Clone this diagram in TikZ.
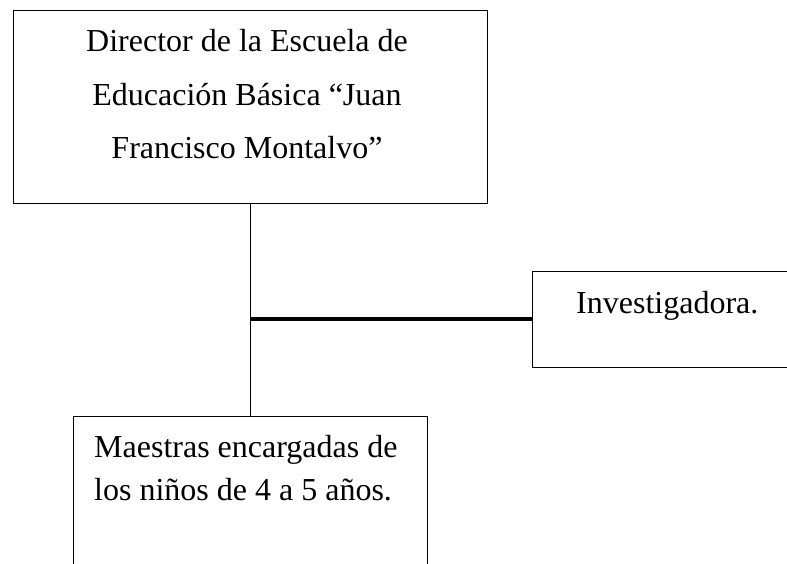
\documentclass[tikz,border=0pt]{standalone}
\usepackage{fontspec}
\setmainfont{Liberation Serif}

\tikzset{
    caja/.style={draw, line width=1pt, inner sep=0pt},
    texto/.style={inner sep=0pt, font=\fontsize{32}{53.5}\selectfont},
}

\begin{document}
\begin{tikzpicture}[x=1pt, y=-1pt]
    % Frame
    \useasboundingbox (0,0) rectangle (787,564);
    \clip (0,0) rectangle (787,564);

    % Boxes
    \node[caja, minimum width=474pt, minimum height=193pt] (director) at (250,107.5) {};
    \node[caja, minimum width=300pt, minimum height=96pt, anchor=west] (investigadora) at (532,319) {};
    \node[caja, minimum width=354pt, minimum height=200pt, anchor=north] (maestras) at (250,416) {};

    % Texts (base = last line)
    \node[texto, align=center, anchor=base] (directortxt) at (247,159)
        {Director de la Escuela de\\Educación Básica “Juan\\Francisco Montalvo”};
    \node[texto, anchor=base west] (investigadoratxt) at (576,313) {Investigadora.};
    \node[texto, align=left, anchor=base west, font=\fontsize{32}{43}\selectfont] (maestrastxt) at (94,500)
        {Maestras encargadas de\\los niños de 4 a 5 años.};

    % Connectors
    \coordinate (rama) at (250,319);
    \draw[line width=1pt] (director.south) -- (maestras.north);
    \draw[line width=4.5pt] (rama) -- (investigadora.west);
\end{tikzpicture}
\end{document}
